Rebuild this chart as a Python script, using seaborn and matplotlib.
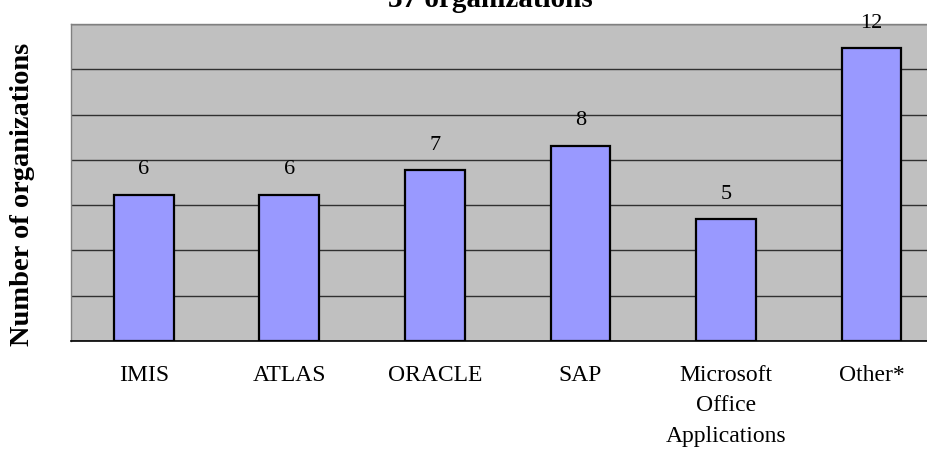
import numpy as np
import pandas as pd
import matplotlib
matplotlib.use("Agg")
import matplotlib.pyplot as plt
import seaborn as sns

# data
systems = ["IMIS", "ATLAS", "ORACLE", "SAP", "Microsoft\nOffice\nApplications", "Other*"]
counts = [6, 6, 7, 8, 5, 12]
title = "37 organizations"

Y_MAX = 13
N_GRID = 7

sns.set_style("white")
plt.rcParams["font.family"] = ["Liberation Serif", "DejaVu Serif"]
plt.rcParams["text.color"] = "black"
plt.rcParams["axes.labelcolor"] = "black"
plt.rcParams["xtick.color"] = "black"

df = pd.DataFrame({"System": systems, "Count": counts})

fig = plt.figure(figsize=(9.28, 4.52), dpi=100)
ax = fig.add_axes([0.0765, 0.2434, 0.941, 0.7013])
ax.set_facecolor("#C0C0C0")

sns.barplot(data=df, x="System", y="Count", color="#9999FF", width=0.41,
            edgecolor="black", linewidth=1.6, saturation=1, ax=ax, zorder=3)

ax.set_ylim(0, Y_MAX)
ax.set_xlim(-0.5, len(systems) - 0.5)
ax.set_yticks(np.linspace(0, Y_MAX, N_GRID + 1))
ax.set_yticklabels([])
ax.grid(axis="y", color="#303030", linewidth=1.0, zorder=1)
ax.set_axisbelow(True)

# category boundary ticks
ax.set_xticks(np.arange(-0.5, len(systems)), minor=True)
ax.tick_params(axis="x", which="minor", length=5, width=1, color="black", direction="out")
ax.tick_params(axis="x", which="major", length=0, pad=16.5, labelsize=17)
ax.tick_params(axis="y", length=0)
for lbl in ax.get_xticklabels():
    lbl.set_linespacing(1.6)

for s in ["top", "right", "left"]:
    ax.spines[s].set_color("#808080")
    ax.spines[s].set_linewidth(1.0)
ax.spines["bottom"].set_color("black")
ax.spines["bottom"].set_linewidth(1.2)

for i, v in enumerate(counts):
    ax.annotate(str(v), (i, v), xytext=(0, 15.5), textcoords="offset points",
                ha="center", va="baseline", fontsize=16)

ax.set_xlabel("")
ax.set_ylabel("Number of organizations", fontsize=20.5, fontweight="bold")
ax.yaxis.set_label_coords(-0.041, 0.465)
fig.text(0.528, 0.984, title, ha="center", va="baseline", fontsize=21, fontweight="bold")

fig.savefig("out.png", dpi=100)
